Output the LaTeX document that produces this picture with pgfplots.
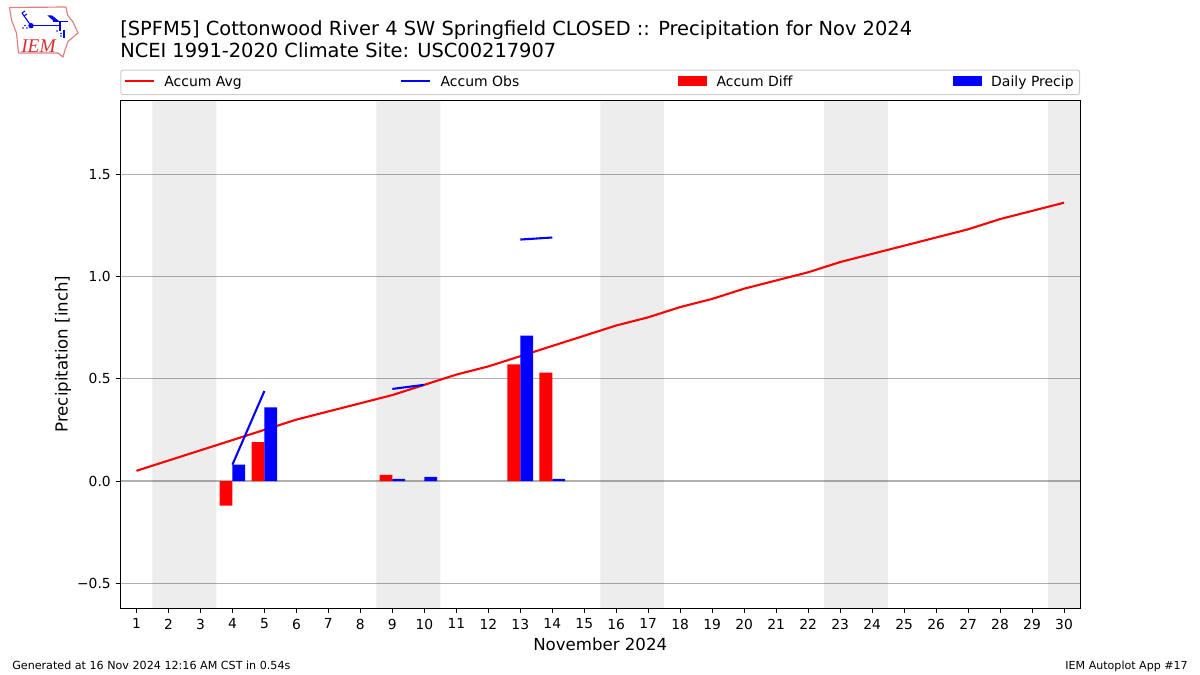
\documentclass[border=0pt]{standalone}
\usepackage{pgfplots}
\pgfplotsset{compat=1.18}
\usepackage{fontspec}
\setmainfont{DejaVu Sans}
\newfontfamily\serifit{Liberation Serif}
\definecolor{gridc}{HTML}{B0B0B0}
\definecolor{legc}{HTML}{CCCCCC}
\definecolor{logored}{HTML}{E08080}
\definecolor{logotxt}{HTML}{D83030}
\pgfplotstableread{
day avg
1 0.05
2 0.10
3 0.15
4 0.20
5 0.25
6 0.30
7 0.34
8 0.38
9 0.42
10 0.47
11 0.52
12 0.56
13 0.61
14 0.66
15 0.71
16 0.76
17 0.80
18 0.85
19 0.89
20 0.94
21 0.98
22 1.02
23 1.07
24 1.11
25 1.15
26 1.19
27 1.23
28 1.28
29 1.32
30 1.36
}\avgtable
\pgfplotstableread{
day diff
4 -0.12
5 0.19
9 0.03
13 0.57
14 0.53
}\difftable
\pgfplotstableread{
day precip
4 0.08
5 0.36
9 0.01
10 0.02
13 0.71
14 0.01
}\preciptable
\pgfplotsset{
  linehandle/.style={legend image code/.code={\draw[##1,line width=1.5bp,sharp corners] (1bp,0.7bp) -- (21.9bp,0.7bp);}},
  barhandle/.style={legend image code/.code={\fill[##1,draw=none,sharp corners] (1bp,-2.9bp) rectangle (21.9bp,4.3bp);}},
}
\newcommand{\fs}[1]{\fontsize{#1}{#1}\selectfont}
\begin{document}
\begin{tikzpicture}
\path[use as bounding box] (0,0) rectangle (864bp,-486bp);
\begin{scope}[x=0.72bp,y=-0.72bp]
% logo
\draw[logored,line width=0.85bp,line join=round]
  (9.5,7.5)--(66,7)--(67.5,15)--(73,22)--(78,33)--(68,41.5)--(65,50)--(63,57)--(58,53)--(18.5,53)--(16.5,33)--(11.5,20)--cycle;
\draw[blue,line width=1.1bp] (31,25.7)--(60,25.7);
\draw[blue,line width=0.9bp] (60,21)--(60,31);
\draw[blue,line width=0.7bp] (53,21)--(68,21);
\draw[blue,line width=0.8bp] (64,30)--(64,38);
\draw[blue,line width=0.8bp] (22,13)--(31,25.7);
\draw[blue,line width=0.7bp] (22,13)--(25,11) (24,16)--(27,14);
\fill[blue] (31,25.7) circle (2.7);
\fill[blue] (47.5,15.5)--(52,15.5)--(59,21)--(54,21.5)--cycle;
\fill[blue] (23,28) circle (0.9) (27,28) circle (0.9) (25,25.5) circle (0.9);
\fill[blue] (57,31) circle (0.9) (61,33.5) circle (0.9) (61,36) circle (0.9);
\node[anchor=base west,inner sep=0pt,text=logotxt] at (21,52) {\serifit\itshape\fs{14}IEM};
% titles
\node[anchor=base west,inner sep=0pt] at (120,35.5) {\fs{14.03}[SPFM5] Cottonwood River 4 SW Springfield CLOSED :: Precipitation for Nov 2024};
\node[anchor=base west,inner sep=0pt] at (120,57.5) {\fs{14.03}NCEI 1991-2020 Climate Site: USC00217907};
% footer
\node[anchor=base west,inner sep=0pt] at (12,670) {\fs{8.05}Generated at 16 Nov 2024 12:16 AM CST in 0.54s};
\node[anchor=base east,inner sep=0pt] at (1188,670) {\fs{8}IEM Autoplot App \#17};
\end{scope}
\begin{axis}[
  at={(86.76bp,-437.76bp)},anchor=south west,
  scale only axis,width=690.84bp,height=365.76bp,
  xmin=0.5,xmax=30.5,ymin=-0.6207,ymax=1.862,
  xtick={1,...,30},
  ytick={-0.5,0,0.5,1,1.5},
  yticklabels={−0.5,0.0,0.5,1.0,1.5},
  tick align=outside,
  ytick pos=left,xtick pos=bottom,
  major tick length=3.5bp,
  tick style={black,line width=0.72bp},
  axis line style={black,line width=0.72bp},
  ymajorgrids,
  grid style={gridc,line width=0.8bp},
  tick label style={font=\fs{10}},
  xticklabel style={yshift=-0.8bp},
  /pgf/number format/assume math mode=true,
  xlabel={November 2024},ylabel={Precipitation [inch]},
  label style={font=\fs{12}},
  xlabel style={at={(axis description cs:0.5,0)},anchor=base,yshift=-30.7bp},
  ylabel style={at={(axis description cs:0,0.5)},anchor=base,yshift=38bp},
  legend columns=4,
  legend cell align=left,
  legend style={
    at={(0.5,1.0)},anchor=south,yshift=3.6bp,
    draw=legc,line width=0.7bp,rounded corners=1.5bp,
    font=\fs{10.1},
    inner xsep=2.3bp,inner ysep=2.2bp,
    /tikz/every even column/.style={column sep=3bp},
  },
]
\addplot[draw=none,fill=black,fill opacity=0.07,forget plot] coordinates {(1.5,-0.6207)(3.5,-0.6207)(3.5,1.862)(1.5,1.862)} \closedcycle;
\addplot[draw=none,fill=black,fill opacity=0.07,forget plot] coordinates {(8.5,-0.6207)(10.5,-0.6207)(10.5,1.862)(8.5,1.862)} \closedcycle;
\addplot[draw=none,fill=black,fill opacity=0.07,forget plot] coordinates {(15.5,-0.6207)(17.5,-0.6207)(17.5,1.862)(15.5,1.862)} \closedcycle;
\addplot[draw=none,fill=black,fill opacity=0.07,forget plot] coordinates {(22.5,-0.6207)(24.5,-0.6207)(24.5,1.862)(22.5,1.862)} \closedcycle;
\addplot[draw=none,fill=black,fill opacity=0.07,forget plot] coordinates {(29.5,-0.6207)(30.5,-0.6207)(30.5,1.862)(29.5,1.862)} \closedcycle;

\addplot[red,line width=1.5bp,linehandle] table[x=day,y=avg] {\avgtable};
\addlegendentry{\hspace*{4.6bp}\makebox[164.9bp][l]{Accum Avg}}
\addplot[blue,line width=1.5bp,linehandle,unbounded coords=jump] coordinates {(4,0.08)(5,0.44)(6,nan)(9,0.45)(10,0.47)(11,nan)(13,1.18)(14,1.19)};
\addlegendentry{\hspace*{4.6bp}\makebox[166.2bp][l]{Accum Obs}}
\addplot[ybar,bar width=9.216bp,bar shift=-4.608bp,fill=red,draw=none,barhandle] table[x=day,y=diff] {\difftable};
\addlegendentry{\hspace*{4.6bp}\makebox[165.3bp][l]{Accum Diff}}
\addplot[ybar,bar width=9.216bp,bar shift=4.608bp,fill=blue,draw=none,barhandle] table[x=day,y=precip] {\preciptable};
\addlegendentry{\hspace*{4.6bp}Daily Precip}
\end{axis}
\end{tikzpicture}
\end{document}
